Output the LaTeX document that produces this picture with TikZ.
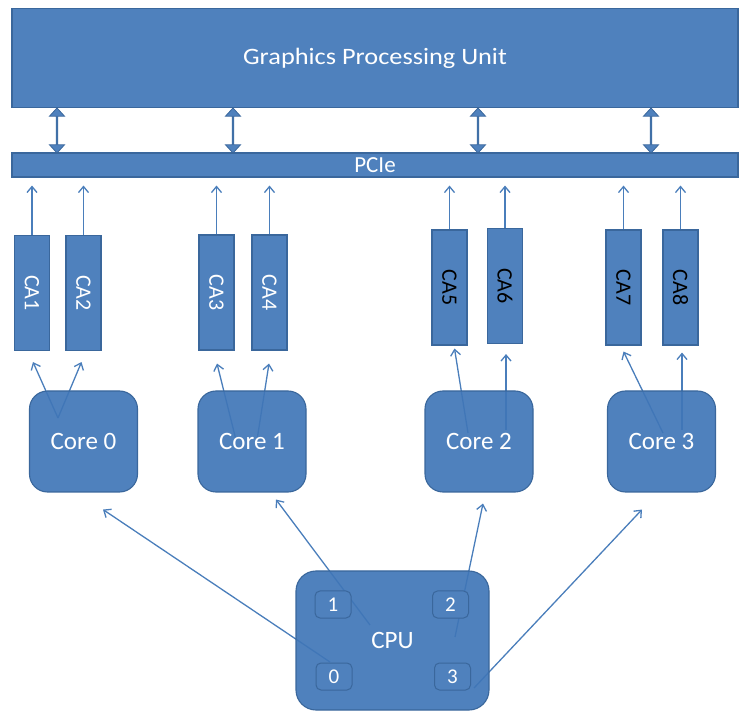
\documentclass[tikz,border=0pt]{standalone}
\usepackage{fontspec}
\setmainfont{Carlito}
\newfontfamily\widefont{Carlito}[FakeStretch=1.12]
\usetikzlibrary{arrows.meta,shapes.arrows,calc}
\pgfdeclarelayer{wires}
\pgfsetlayers{wires,main}

\definecolor{unitfill}{HTML}{4076B7}
\definecolor{unitflat}{HTML}{4F81BD}
\definecolor{unitedge}{HTML}{3A679C}
\definecolor{wire}{HTML}{4A7EBB}

\begin{document}
\begin{tikzpicture}[x=1pt,y=-1pt,
  unit/.style={draw=unitedge, line width=1.1pt, fill=unitfill, fill opacity=0.92,
    draw opacity=1, text opacity=1, text=white, inner sep=0pt},
  cabox/.style={unit, minimum width=35pt, minimum height=115pt, font=\fontsize{22}{24}\selectfont},
  core/.style={unit, rounded corners=18pt, minimum width=108pt, minimum height=101pt,
    font=\fontsize{25}{28}\selectfont},
  cpubox/.style={unit, rounded corners=20pt, minimum width=193pt, minimum height=139pt,
    font=\fontsize{25}{28}\selectfont},
  slot/.style={draw=unitedge, line width=1pt, fill=unitflat, text=white, rounded corners=5pt,
    minimum width=36pt, minimum height=27pt, inner sep=0pt, font=\fontsize{21}{24}\selectfont},
  link/.style={draw=wire, line width=1.3pt, -{Straight Barb[length=6pt,width=10pt]}},
  bus/.style={double arrow, shape border rotate=90, draw=unitedge, fill=unitflat,
    line width=0.8pt, minimum height=45pt, minimum width=15pt,
    double arrow head extend=3.5pt, double arrow tip angle=85, inner sep=0pt},
]
\useasboundingbox (0,0) rectangle (740,711);

% GPU and PCIe bus
\node[unit, minimum width=726pt, minimum height=99pt,
  font=\widefont\fontsize{23.5}{26}\selectfont] (gpu) at (375,58) {Graphics Processing Unit};
\node[unit, minimum width=726pt, minimum height=24pt,
  font=\fontsize{23}{24}\selectfont] (pcie) at (375,165) {PCIe};

\node[bus] (bus1) at (57,130.5) {};
\node[bus] (bus2) at (233,130.5) {};
\node[bus] (bus3) at (478,130.5) {};
\node[bus] (bus4) at (651,130.5) {};

% CA boxes
\node[cabox] (ca1) at (32,293) {\rotatebox{-90}{CA1}};
\node[cabox] (ca2) at (83.5,293) {\rotatebox{-90}{CA2}};
\node[cabox] (ca3) at (216.5,292.5) {\rotatebox{-90}{CA3}};
\node[cabox] (ca4) at (269.5,292.5) {\rotatebox{-90}{CA4}};
\node[cabox, text=black] (ca5) at (449.5,287.5) {\rotatebox{-90}{CA5}};
\node[cabox, text=black] (ca6) at (505,286) {\rotatebox{-90}{CA6}};
\node[cabox, text=black] (ca7) at (623.5,287.5) {\rotatebox{-90}{CA7}};
\node[cabox, text=black] (ca8) at (680.5,287.5) {\rotatebox{-90}{CA8}};

% cores
\node[core] (core0) at (83.5,441.5) {Core 0};
\node[core] (core1) at (252,441.5) {Core 1};
\node[core] (core2) at (479,441.5) {Core 2};
\node[core] (core3) at (661.5,441.5) {Core 3};

% CPU
\node[cpubox] (cpu) at (392.5,640.5) {CPU};
\node[slot] (s1) at (333,604.5) {1};
\node[slot] (s2) at (450.5,604.5) {2};
\node[slot] (s0) at (334,676.5) {0};
\node[slot] (s3) at (452.5,676.5) {3};

% sources of the connectors inside the boxes
\coordinate (k0) at (58,418);
\coordinate (k1a) at (236,440);
\coordinate (k1b) at (257,440);
\coordinate (k2a) at (468,433);
\coordinate (k2b) at (506,430);
\coordinate (k3a) at (663,433);
\coordinate (k3b) at (682,430);
\coordinate (p0) at (330,662);
\coordinate (p1) at (370,625);
\coordinate (p2) at (455,637);
\coordinate (p3) at (474,688);

\begin{pgfonlayer}{wires}
  % CA boxes to PCIe
  \foreach \c in {ca1,ca2,ca3,ca4,ca5,ca6,ca7,ca8}
    \draw[link, shorten >=8pt] (\c.north) -- (\c.north |- pcie.south);
  % cores to CA boxes
  \draw[link] (k0) -- ($(ca1.south)+(1,11)$);
  \draw[link] (k0) -- ($(ca2.south)+(-2,11)$);
  \draw[link] (k1a) -- ($(ca3.south)+(0.5,13)$);
  \draw[link] (k1b) -- ($(ca4.south)+(-0.5,13)$);
  \draw[link] (k2a) -- ($(ca5.south)+(5,3)$);
  \draw[link] (k2b) -- ($(ca6.south)+(1,10)$);
  \draw[link] (k3a) -- ($(ca7.south)+(0,6)$);
  \draw[link] (k3b) -- ($(ca8.south)+(1.5,7)$);
  % CPU to cores
  \draw[link] (p0) -- ($(core0.south)+(19.5,17)$);
  \draw[link] (p1) -- ($(core1.south)+(24,7)$);
  \draw[link] (p2) -- ($(core2.south)+(4,11)$);
  \draw[link] (p3) -- ($(core3.south)+(-19.5,17)$);
\end{pgfonlayer}
\end{tikzpicture}
\end{document}
